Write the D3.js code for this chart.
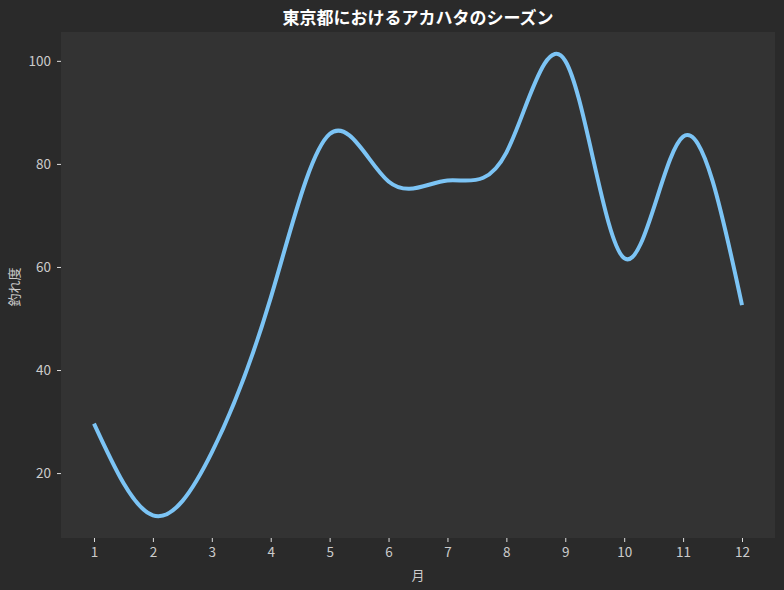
<!DOCTYPE html>
<html>
<head>
<meta charset="utf-8">
<script src="https://cdn.jsdelivr.net/npm/d3@7"></script>
<style>
  body { margin: 0; background: #2a2a2a; }
  text { font-family: "Noto Sans CJK JP", "Noto Sans", sans-serif; }
</style>
</head>
<body>
<div id="chart"></div>
<script>
// data
var months = [1, 2, 3, 4, 5, 6, 7, 8, 9, 10, 11, 12];
var catchScore = [29.6, 11.8, 24, 54, 85.8, 76.6, 76.8, 82.2, 100, 61.7, 85.3, 52.6];
var yTicks = [20, 40, 60, 80, 100];
var titleText = '東京都におけるアカハタのシーズン';
var xLabel = '月';
var yLabel = '釣れ度';

var W = 784, H = 590;
var margin = { top: 32, right: 9, bottom: 52, left: 61 };
var width = W - margin.left - margin.right;
var height = H - margin.top - margin.bottom;

var svg = d3.select('#chart').append('svg')
    .attr('width', W)
    .attr('height', H);

svg.append('rect')
    .attr('width', W).attr('height', H)
    .attr('fill', '#2a2a2a');

var g = svg.append('g')
    .attr('transform', 'translate(' + margin.left + ',' + margin.top + ')');

// plot background
g.append('rect')
    .attr('width', width).attr('height', height)
    .attr('fill', '#333333');

// scales
var x = d3.scaleLinear().domain([0.44, 12.56]).range([0, width]);
var y = d3.scaleLinear().domain([7.4, 105.6]).range([height, 0]);

// axes
var xAxis = g.append('g')
    .attr('transform', 'translate(0,' + height + ')')
    .call(d3.axisBottom(x).tickValues(months).tickSize(4).tickPadding(5).tickFormat(d3.format('d')));
var yAxis = g.append('g')
    .call(d3.axisLeft(y).tickValues(yTicks).tickSize(4).tickPadding(6));

[xAxis, yAxis].forEach(function(a) {
    a.select('.domain').remove();
    a.selectAll('line').attr('stroke', '#dddddd');
    a.selectAll('text').attr('fill', '#cccccc').attr('font-size', 13.5);
});

// line
var line = d3.line()
    .x(function(d, i) { return x(months[i]); })
    .y(function(d) { return y(d); })
    .curve(d3.curveNatural);

g.append('path')
    .datum(catchScore)
    .attr('d', line)
    .attr('fill', 'none')
    .attr('stroke', '#7cc4f5')
    .attr('stroke-width', 4)
    .attr('stroke-linecap', 'butt');

// title and labels
svg.append('text')
    .attr('x', margin.left + width / 2)
    .attr('y', 24)
    .attr('text-anchor', 'middle')
    .attr('fill', '#ffffff')
    .attr('font-size', 17)
    .attr('font-weight', 'bold')
    .text(titleText);

svg.append('text')
    .attr('x', margin.left + width / 2)
    .attr('y', 580)
    .attr('text-anchor', 'middle')
    .attr('fill', '#cccccc')
    .attr('font-size', 13)
    .text(xLabel);

svg.append('text')
    .attr('transform', 'translate(19,' + (margin.top + height / 2 + 2) + ') rotate(-90)')
    .attr('text-anchor', 'middle')
    .attr('fill', '#cccccc')
    .attr('font-size', 13)
    .text(yLabel);
</script>
</body>
</html>
